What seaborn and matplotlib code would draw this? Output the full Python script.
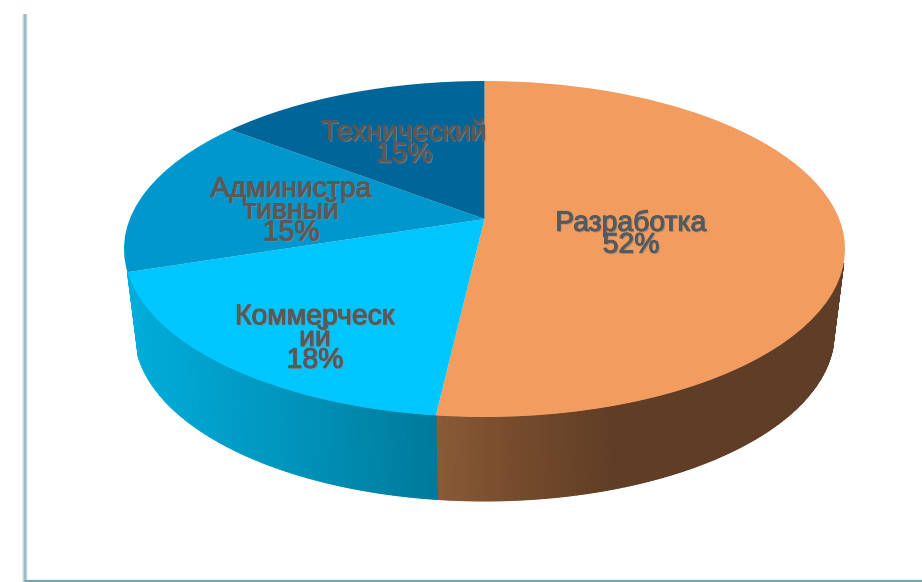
import matplotlib
matplotlib.use("Agg")
import matplotlib.pyplot as plt
import matplotlib.patheffects as pe
from matplotlib.colors import LinearSegmentedColormap
from matplotlib.transforms import Transform
import numpy as np
import seaborn as sns

# Data
departments = ["Разработка", "Коммерческий", "Административный", "Технический"]
shares = [51.8, 18.2, 15.4, 14.6]
label_lines = ["Разработка", "Коммерческ\nий", "Администра\nтивный", "Технический"]

# Layout in figure pixels
label_pos = [(631, 234.5), (315, 339), (291, 211.5), (404, 144)]
cx, cy = 484.5, 249
rx, ry = 354.7, 168
apex = 30
depth = 84
bottom_scale = 0.97

sns.set_theme(style="white")
plt.rcParams["font.family"] = ["Liberation Sans", "DejaVu Sans"]

colors = sns.color_palette(["#F29D5F", "#00C6FF", "#0098CC", "#006699"])
wall_maps = {
    0: LinearSegmentedColormap.from_list("brown", [(0, "#8B5B36"), (0.2, "#754B2C"), (0.45, "#5F3D26"), (1, "#5F3D26")]),
    1: LinearSegmentedColormap.from_list("blue", ["#00AEDB", "#0096BE", "#007A9A"]),
}


def tilt(x, y, scale=1.0, drop=0.0):
    # Perspective view of the unit circle, in pixels
    k = 2 * apex / (2 * ry)
    d = 1 + k * y
    return cx + scale * rx * x / d, cy + drop - (ry * y + apex) / d


class PieTilt(Transform):
    input_dims = 2
    output_dims = 2

    def transform_non_affine(self, values):
        values = np.asarray(values)
        px, py = tilt(values[:, 0], values[:, 1])
        return np.column_stack([px, py])


fig = plt.figure(figsize=(9.22, 5.82), dpi=100, facecolor="white")
ax = fig.add_axes([0, 0, 1, 1])

wedges, _ = ax.pie(shares, colors=colors, startangle=90, counterclock=False,
                   wedgeprops={"linewidth": 0})
for w in wedges:
    w.set_transform(PieTilt() + ax.transData)
    w.set_zorder(3)

# Side walls of the two front slices
edges = np.cumsum([0] + shares) * 3.6
for i, cmap in wall_maps.items():
    start = max(edges[i], 105)
    t = np.radians(np.linspace(start, edges[i + 1], 200))
    x_top, y_top = tilt(np.sin(t), np.cos(t))
    x_bot, y_bot = tilt(np.sin(t), np.cos(t), bottom_scale, depth)
    X = np.vstack([x_top, x_bot])
    Y = np.vstack([y_top, y_bot])
    ax.pcolormesh(X, Y, (X - X.min()) / (X.max() - X.min()), cmap=cmap,
                  shading="gouraud", zorder=2)

# Labels
for line, share, (lx, ly) in zip(label_lines, shares, label_pos):
    ax.text(lx, ly, f"{line}\n{share:.0f}%", ha="center", va="center", fontsize=20.4,
            color="#595959", linespacing=0.79, zorder=5,
            path_effects=[pe.withSimplePatchShadow(offset=(1, -1), shadow_rgbFace="#8a8a8a", alpha=0.7),
                          pe.withStroke(linewidth=0.7, foreground="#595959")])

# Frame lines on the left and bottom
for width, alpha in [(6, 0.2), (4, 0.4), (2, 0.8)]:
    ax.plot([24.5, 24.5], [14, 582], color="#8DB6BE", lw=width * 0.72, alpha=alpha, zorder=1,
            solid_capstyle="butt")
ax.plot([25, 922], [580.5, 580.5], color="#72A6AE", lw=1.6, zorder=1, solid_capstyle="butt")

ax.set_aspect("auto")
ax.set_xlim(0, 922)
ax.set_ylim(582, 0)
ax.axis("off")

fig.savefig("out.png", dpi=100)
